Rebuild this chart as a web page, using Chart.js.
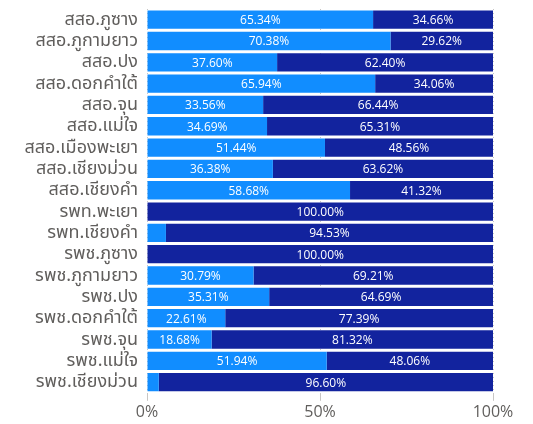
<!DOCTYPE html>
<html>
<head>
<meta charset="utf-8">
<script src="https://cdn.jsdelivr.net/npm/chart.js@4"></script>
<style>
  html, body { margin: 0; padding: 0; background: #fff; }
  #wrap { width: 533px; height: 424px; position: relative; }
</style>
</head>
<body>
<div id="wrap"><canvas id="myChart"></canvas></div>
<script>
const categories = [
  "สสอ.ภูซาง", "สสอ.ภูกามยาว", "สสอ.ปง", "สสอ.ดอกคำใต้", "สสอ.จุน", "สสอ.แม่ใจ",
  "สสอ.เมืองพะเยา", "สสอ.เชียงม่วน", "สสอ.เชียงคำ", "รพท.พะเยา", "รพท.เชียงคำ",
  "รพช.ภูซาง", "รพช.ภูกามยาว", "รพช.ปง", "รพช.ดอกคำใต้", "รพช.จุน", "รพช.แม่ใจ", "รพช.เชียงม่วน"
];
const seriesA = [65.34, 70.38, 37.60, 65.94, 33.56, 34.69, 51.44, 36.38, 58.68, 0, 5.47, 0, 30.79, 35.31, 22.61, 18.68, 51.94, 3.40];
const seriesB = [34.66, 29.62, 62.40, 34.06, 66.44, 65.31, 48.56, 63.62, 41.32, 100, 94.53, 100, 69.21, 64.69, 77.39, 81.32, 48.06, 96.60];
const xTicks = [0, 50, 100];

// draw value labels inside the bars
const barLabels = {
  id: "barLabels",
  afterDatasetsDraw(chart) {
    const ctx = chart.ctx;
    ctx.save();
    ctx.font = "12px 'Open Sans', sans-serif";
    ctx.fillStyle = "#ffffff";
    ctx.textAlign = "center";
    ctx.textBaseline = "middle";
    chart.data.datasets.forEach((ds, di) => {
      chart.getDatasetMeta(di).data.forEach((bar, i) => {
        const v = ds.data[i];
        if (v < 10) return;
        const x = (bar.x + bar.base) / 2;
        ctx.fillText(v.toFixed(2) + "%", x, bar.y + 1);
      });
    });
    ctx.restore();
  },
};

new Chart(document.getElementById("myChart"), {
  type: "bar",
  data: {
    labels: categories,
    datasets: [
      {
        data: seriesA,
        backgroundColor: "#118DFF",
        barPercentage: 1,
        categoryPercentage: 0.86,
      },
      {
        data: seriesB,
        backgroundColor: "#12239E",
        barPercentage: 1,
        categoryPercentage: 0.86,
      },
    ],
  },
  options: {
    responsive: true,
    maintainAspectRatio: false,
    animation: false,
    indexAxis: "y",
    layout: {
      padding: { top: 0, right: 40, left: 4, bottom: 0 },
    },
    plugins: {
      legend: { display: false },
      tooltip: { enabled: false },
    },
    scales: {
      x: {
        stacked: true,
        min: 0,
        max: 100,
        afterBuildTicks: (axis) => {
          axis.ticks = xTicks.map((v) => ({ value: v }));
        },
        ticks: {
          color: "#605E5C",
          font: { size: 16, family: "'Open Sans', sans-serif" },
          callback: (v) => v + "%",
          padding: 2,
        },
        grid: {
          color: "#C8C6C4",
          lineWidth: 1,
          tickLength: 8,
        },
        border: { display: false, dash: [1, 3] },
      },
      y: {
        stacked: true,
        afterFit: (scale) => {
          scale.width = 143;
        },
        ticks: {
          autoSkip: false,
          color: "#605E5C",
          font: { size: 18, lineHeight: 1, family: "'Noto Sans', 'Noto Sans Thai', sans-serif" },
          padding: 0,
        },
        grid: {
          drawOnChartArea: false,
          drawTicks: true,
          tickLength: 9,
          color: "rgba(0,0,0,0)",
        },
        border: { display: false },
      },
    },
  },
  plugins: [barLabels],
});
</script>
</body>
</html>
